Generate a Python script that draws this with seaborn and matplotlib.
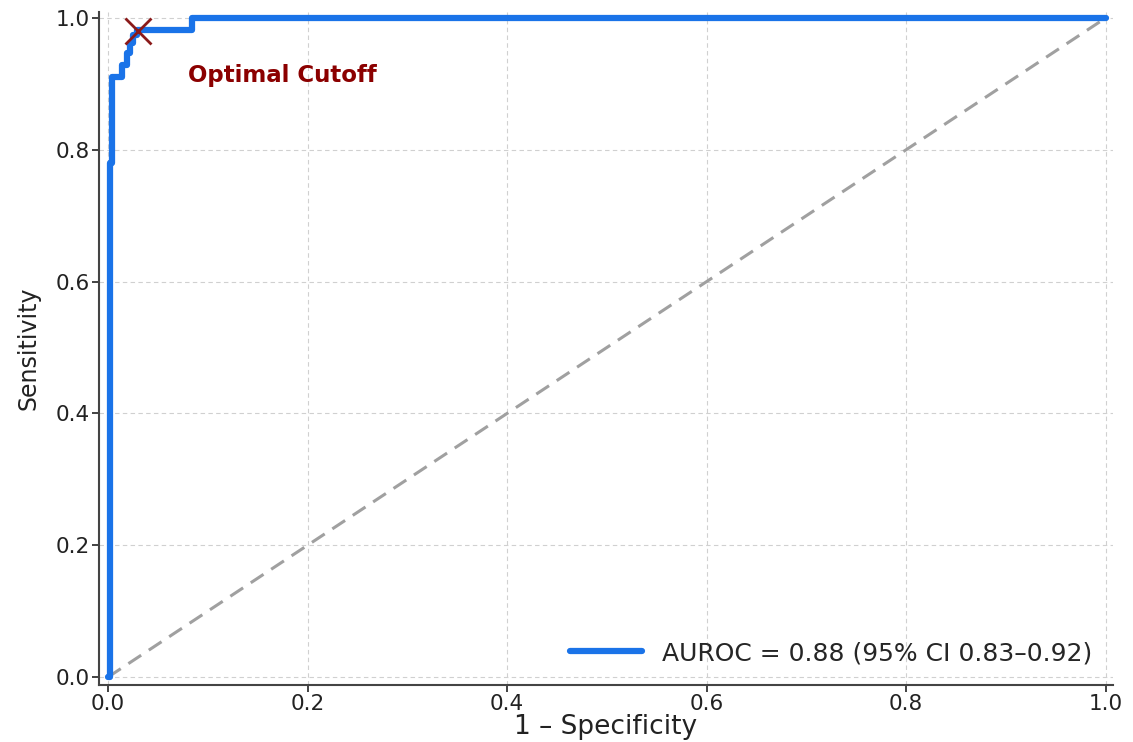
import matplotlib
matplotlib.use("Agg")
import matplotlib.pyplot as plt
import pandas as pd
import seaborn as sns

# ROC curve corner points
fpr = [0.0, 0.002, 0.002, 0.0045, 0.0045, 0.014, 0.014, 0.019, 0.019,
       0.022, 0.022, 0.025, 0.025, 0.029, 0.029, 0.084, 0.084, 1.0]
tpr = [0.0, 0.0, 0.78, 0.78, 0.911, 0.911, 0.929, 0.929, 0.947,
       0.947, 0.962, 0.962, 0.974, 0.974, 0.982, 0.982, 1.0, 1.0]
chance = [0.0, 1.0]
cutoff_fpr, cutoff_tpr = 0.030, 0.98
legend_label = "AUROC = 0.88 (95% CI 0.83\u20130.92)"
xticks = [0.0, 0.2, 0.4, 0.6, 0.8, 1.0]
yticks = [0.0, 0.2, 0.4, 0.6, 0.8, 1.0]

sns.set_theme(style="whitegrid")
plt.rcParams["font.family"] = ["DejaVu Sans"]

roc = pd.DataFrame({"fpr": fpr, "tpr": tpr})
diag = pd.DataFrame({"x": chance, "y": chance})

fig = plt.figure(figsize=(11.33, 7.42), dpi=100)
ax = fig.add_axes([0.0874, 0.0768, 0.8946, 0.907])

sns.lineplot(data=diag, x="x", y="y", ax=ax, color="#a0a0a0", linewidth=2.2,
             linestyle=(0, (5, 3)), sort=False, estimator=None)
sns.lineplot(data=roc, x="fpr", y="tpr", ax=ax, color="#1a73e8", linewidth=4.5,
             sort=False, estimator=None, label=legend_label)
ax.plot([cutoff_fpr], [cutoff_tpr], marker="x", color="#8b1a1a",
        markersize=19, mew=2.0, linestyle="none", zorder=5)
ax.text(0.08, 0.913, "Optimal Cutoff", color="#8b0000", fontsize=16.5,
        fontweight="bold", va="center", ha="left")

ax.set_xlim(-0.009, 1.007)
ax.set_ylim(-0.012, 1.009)
ax.set_xticks(xticks)
ax.set_yticks(yticks)
ax.set_xticklabels([f"{t:.1f}" for t in xticks])
ax.set_yticklabels([f"{t:.1f}" for t in yticks])
ax.tick_params(axis="both", labelsize=15.5, colors="#222222", length=5,
               width=1.2, direction="out", left=True, bottom=True, pad=1.5)
ax.grid(True, linestyle=(0, (4, 3)), color="#d0d0d0", linewidth=0.8)
for side in ["top", "right"]:
    ax.spines[side].set_visible(False)
for side in ["left", "bottom"]:
    ax.spines[side].set_color("#444444")
    ax.spines[side].set_linewidth(1.5)

ax.set_xlabel("1 \u2013 Specificity", fontsize=19, color="#222222", labelpad=0)
ax.set_ylabel("Sensitivity", fontsize=17, color="#222222", labelpad=11,
              family=["Liberation Sans Narrow", "DejaVu Sans"])
ax.legend(loc="lower right", frameon=False, fontsize=18, handlelength=2.9,
          borderaxespad=0.4)

fig.savefig("out.png", dpi=100)
plt.close(fig)
